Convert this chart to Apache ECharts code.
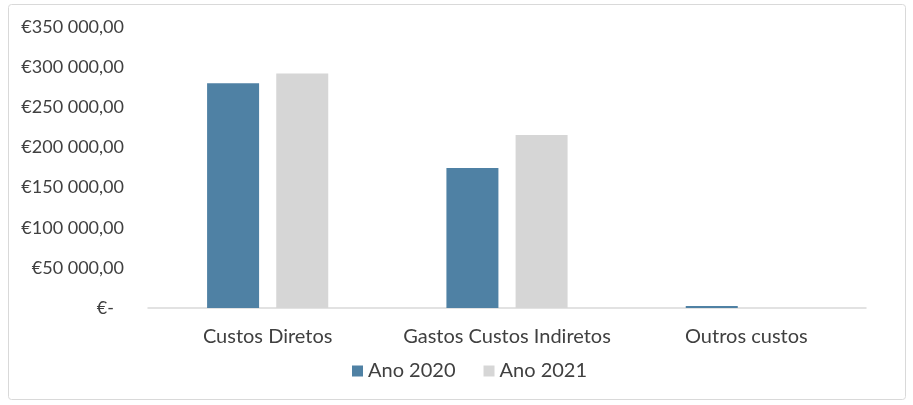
<!DOCTYPE html>
<html><head><meta charset="utf-8">
<script src="https://cdn.jsdelivr.net/npm/echarts@6/dist/echarts.min.js"></script>
<style>html,body{margin:0;padding:0;background:#fff}#c{width:913px;height:405px}</style>
</head><body><div id="c"></div>
<script>
const categories = ['Custos Diretos', 'Gastos Custos Indiretos', 'Outros custos'];
const ano2020 = [280000, 174500, 2500];
const ano2021 = [292000, 215500, 0];
const seriesNames = ['Ano 2020', 'Ano 2021'];

function fmt(v) {
  if (v === 0) return '{z|€-}';
  const s = Math.round(v).toString().replace(/\B(?=(\d{3})+(?!\d))/g, ' ');
  return '€' + s + ',00';
}
const FONT = 'Lato';
const chart = echarts.init(document.getElementById('c'));
chart.setOption({
  animation: false,
  textStyle: { fontFamily: FONT },
  graphic: [{ type: 'rect', shape: { x: 8.5, y: 4.5, width: 897, height: 395, r: 3 },
    style: { fill: 'none', stroke: '#d9d9d9', lineWidth: 1 }, silent: true }],
  grid: { left: 148, right: 47, top: 27, bottom: 97 },
  legend: { data: seriesNames, top: 356, left: 347, itemWidth: 11, itemHeight: 11, itemGap: 28, icon: 'rect',
    textStyle: { fontFamily: FONT, fontSize: 20, color: '#404040' } },
  xAxis: { type: 'category', data: categories,
    axisLine: { lineStyle: { color: '#d9d9d9', width: 1.5 } }, axisTick: { show: false },
    axisLabel: { interval: 0, fontFamily: FONT, fontSize: 20, color: '#404040', margin: 19 } },
  yAxis: { type: 'value', min: 0, max: 350000, interval: 50000,
    axisLine: { show: false }, axisTick: { show: false }, splitLine: { show: false },
    axisLabel: { formatter: fmt, fontFamily: FONT, fontSize: 18, color: '#404040', margin: 24,
      rich: { z: { fontFamily: FONT, fontSize: 18, color: '#404040', padding: [0, 10, 0, 0] } } } },
  series: [
    { name: seriesNames[0], type: 'bar', data: ano2020, barWidth: 52, barGap: '33%', itemStyle: { color: '#4F81A4' } },
    { name: seriesNames[1], type: 'bar', data: ano2021, barWidth: 52, itemStyle: { color: '#D6D6D6' } }
  ]
});
</script></body></html>
